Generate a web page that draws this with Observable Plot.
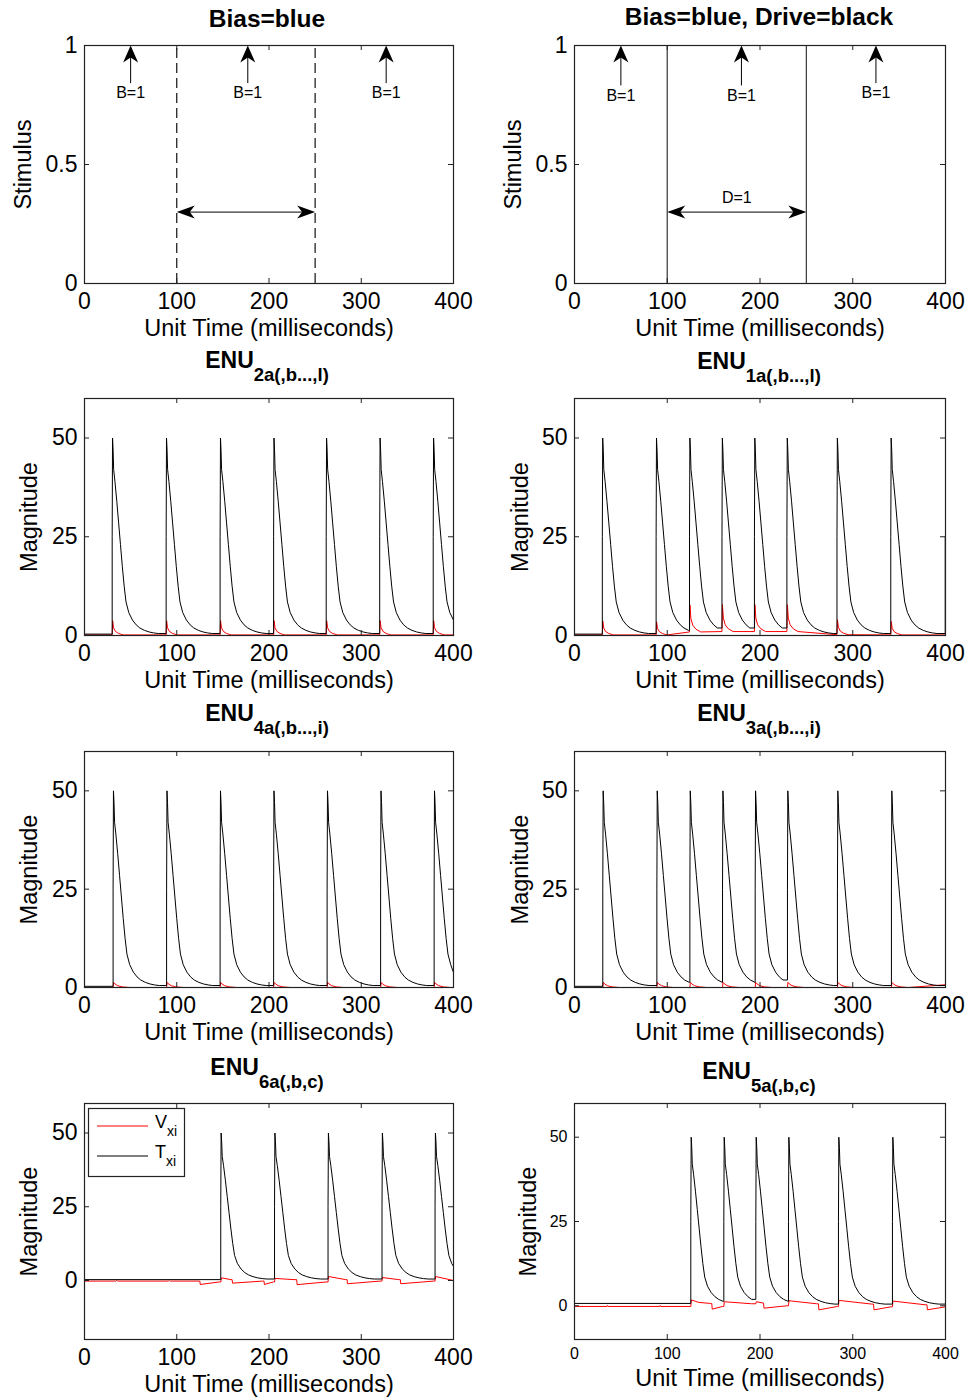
<!DOCTYPE html>
<html><head><meta charset="utf-8">
<script src="https://cdn.jsdelivr.net/npm/d3@7"></script>
<script src="https://cdn.jsdelivr.net/npm/@observablehq/plot@0.6"></script>
<style>
body{margin:0;background:#fff;}
#page{position:relative;width:970px;height:1399px;overflow:hidden;background:#fff;font-family:"Liberation Sans",Arial,sans-serif;}
.panel{position:absolute;}
#overlay{position:absolute;left:0;top:0;pointer-events:none;}
</style></head><body><div id="page"></div>
<script>
// ---------------- data ----------------
const timeDomain = [0, 400];
const timeTicks = [0, 100, 200, 300, 400];
const stimDomain = [0, 1];
const stimTicks = [0, 0.5, 1];
const magDomain = [0, 60];
const magDomain6 = [-20, 60];
const magDomain5 = [-10, 60];
const magTicks = [0, 25, 50];

const biasTimes = [0, 400];
const biasValues = [1, 1];
const driveEdges = [100, 250];
const driveArrowLevel = 0.3;
const driveLabelTime = 175;
const driveLabelLevel = 0.36;

const biasArrowTimesL = [50, 177, 327];
const biasArrowBaseL = [0.84, 0.84, 0.84];
const biasLabelLevelL = [0.80, 0.80, 0.80];
const biasArrowTimesR = [50, 180, 325];
const biasArrowBaseR = [0.83, 0.83, 0.84];
const biasLabelLevelR = [0.79, 0.79, 0.80];

// shape of one T spike (ms after onset, magnitude)
const spikeOffsets = [0, 0, 0.4, 1, 1.6, 3, 5, 7, 9, 11, 13, 15, 18, 22, 26, 30, 35, 40, 45, 50];
const spikeShape   = [null, 25, 50, 47, 42, 39, 34, 28.5, 23, 17.5, 12.5, 8.5, 5.8, 3.9, 2.7, 1.9, 1.3, 0.9, 0.65, 0.5];

// V peak shapes (ms after onset, share of peak)
const vSharpOffsets = [0.5, 1.5, 3.5, 7, 12];
const vSharpShare   = [1, 0.5, 0.25, 0.1, 0];
const vSoftOffsets  = [0.5, 2, 5, 10, 18];
const vSoftShare    = [1, 0.7, 0.35, 0.12, 0];

const spikesENU2 = [30, 88.5, 147, 205, 262, 320, 378];
const spikesENU1 = [30, 88, 124, 159, 194, 229, 283, 341, 399.7];
const spikesENU4 = [31, 89, 147, 205, 263, 321, 379];
const spikesENU3 = [30.5, 88.8, 124.4, 159.6, 194.8, 229.6, 283.5, 341.7];
const spikesENU6 = [147.7, 206, 264, 322.5, 380];
const spikesENU5 = [125.4, 161, 195.5, 230.7, 284.6, 342.8];

const tBaseENU2 = 0.35, tEndENU2 = 3.7;
const tBaseENU1 = 0.35, tEndENU1 = 25;
const tBaseENU4 = 0.3,  tEndENU4 = 3.8;
const tBaseENU3 = 0.3,  tEndENU3 = 0.5;
const tBaseENU6 = 0.3,  tEndENU6 = 4.8;
const tBaseENU5 = 0.7,  tEndENU5 = 0.5;

const vPeaksENU2 = [3.6, 3.6, 3.6, 3.6, 3.6, 3.6, 3.6];
const vBasesENU2 = [0.15, 0.15, 0.15, 0.15, 0.15, 0.15, 0.15];
const vEndENU2 = 0.15;
const vPeaksENU1 = [3.5, 3.3, 6.8, 6.8, 6.8, 6.8, 3.8, 3.4, 0];
const vBasesENU1 = [0.15, 0.15, 0.9, 1.0, 1.0, 1.0, 0.2, 0.15, 0.15];
const vEndENU1 = 0.15;
const vPeaksENU4 = [1.3, 1.3, 1.3, 1.3, 1.3, 1.3, 1.3];
const vBasesENU4 = [0, 0, 0, 0, 0, 0, 0];
const vEndENU4 = 0;
const vPeaksENU3 = [1.3, 1.3, 1.3, 1.3, 1.3, 1.3, 1.3, 1.3];
const vBasesENU3 = [0, 0, 0, 0, 0, 0, 0, 0];
const vEndENU3 = 0.7;

const vTimesENU6 = [0, 34, 35, 36, 91, 92, 93, 125, 125.5, 146, 147.7, 148.5, 158.6, 160, 160.5, 193, 194.6, 195, 204.7, 206, 206.5, 227, 230, 230.5, 262, 264, 264.5, 283, 284.7, 285, 320.7, 322.5, 323, 340.5, 342.3, 342.8, 378.4, 380, 380.5, 400];
const vValuesENU6 = [-0.2, -0.2, 0.1, -0.2, -0.2, 0.1, -0.2, -0.2, -1.35, -0.5, -0.5, 0.9, 0.3, 0.3, -0.9, -0.2, -0.2, -1.35, -0.5, -0.5, 0.7, 0.3, 0.3, -1.4, -0.5, -0.5, 1.35, 0.3, 0.3, -1.1, -0.2, -0.2, 1.0, 0.3, 0.3, -1.1, -0.2, -0.2, 1.35, 0];
const vTimesENU5 = [0, 35, 35.5, 36, 92, 92.5, 93, 125.4, 125.9, 134, 146.6, 148, 148.5, 159.6, 161, 161.5, 191, 195.5, 196, 203.8, 204.3, 229, 230.7, 231.2, 261, 263, 263.5, 283.6, 284.6, 285.1, 320.6, 322.4, 322.9, 341.4, 342.8, 343.3, 378, 380, 380.5, 400];
const vValuesENU5 = [-0.2, -0.2, 0.1, -0.2, -0.2, 0.1, -0.2, -0.2, 1.75, 1.0, 0.7, 0.7, -1.0, -0.2, -0.2, 1.2, 0.6, 0.6, 1.2, 0.8, -0.7, 0, 0, 1.5, 0.6, 0.6, -1.2, -0.2, -0.2, 1.6, 0.5, 0.5, -1.2, -0.3, -0.3, 1.4, 0.3, 0.3, -1.2, -0.3];

// ---------------- builders ----------------
function buildT(spikes, base, endValue) {
  const pts = [{t: 0, v: base}];
  let last = base;
  spikes.forEach((s, i) => {
    const next = i + 1 < spikes.length ? spikes[i + 1] : Infinity;
    pts.push({t: s, v: last});
    for (let k = 1; k < spikeOffsets.length; k++) {
      const t = s + spikeOffsets[k];
      if (t > 400 || t >= next) break;
      pts.push({t, v: spikeShape[k]});
      last = spikeShape[k];
    }
  });
  if (pts[pts.length - 1].t < 400) pts.push({t: 400, v: endValue});
  return pts;
}
function buildV(spikes, peaks, bases, offs, share, endValue) {
  const pts = [{t: 0, v: bases[0]}];
  spikes.forEach((s, i) => {
    const next = i + 1 < spikes.length ? spikes[i + 1] : Infinity;
    pts.push({t: s, v: bases[i]});
    for (let k = 0; k < offs.length; k++) {
      const t = s + offs[k];
      if (t > 400 || t >= next) break;
      pts.push({t, v: bases[i] + share[k] * peaks[i]});
    }
  });
  if (pts[pts.length - 1].t < 400) pts.push({t: 400, v: endValue});
  return pts;
}
const zipTV = (ts, vs) => ts.map((t, i) => ({t, v: vs[i]}));

// arrowhead symbols (tip at the point)
const upHead = {draw(c) { c.moveTo(0, 0); c.lineTo(7.5, 17); c.lineTo(0, 12); c.lineTo(-7.5, 17); c.closePath(); }};
const leftHead = {draw(c) { c.moveTo(0, 0); c.lineTo(18, -6.5); c.lineTo(13, 0); c.lineTo(18, 6.5); c.closePath(); }};
const rightHead = {draw(c) { c.moveTo(0, 0); c.lineTo(-18, -6.5); c.lineTo(-13, 0); c.lineTo(-18, 6.5); c.closePath(); }};

const FONT = "'Liberation Sans', Arial, Helvetica, sans-serif";
const INK = "#222";

function stimulusMarks(dashed, times, bases, labels, withD) {
  const idx = times.map((_, i) => i);
  const bias = zipTV(biasTimes, biasValues);
  const m = [
    Plot.ruleX(driveEdges, {x: d => d, y1: () => stimDomain[0], y2: () => stimDomain[1], stroke: dashed ? "#111" : "#444", strokeWidth: dashed ? 1.2 : 1.3, strokeDasharray: dashed ? "10,5" : null}),
    Plot.ruleX(idx, {x: i => times[i], y1: i => bases[i], y2: () => 0.97, stroke: "#000"}),
    Plot.dot(idx, {x: i => times[i], y: () => 1, symbol: upHead, fill: "#000", stroke: "none", r: 8}),
    Plot.text(idx, {x: i => times[i], y: i => labels[i], text: () => "B=1", fontSize: 16}),
    Plot.ruleY([driveArrowLevel], {y: d => d, x1: () => driveEdges[0] + 3, x2: () => driveEdges[1] - 3, stroke: "#000"}),
    Plot.dot([driveArrowLevel], {x: () => driveEdges[0], y: d => d, symbol: leftHead, fill: "#000", stroke: "none", r: 8}),
    Plot.dot([driveArrowLevel], {x: () => driveEdges[1], y: d => d, symbol: rightHead, fill: "#000", stroke: "none", r: 8}),
    Plot.line(bias, {x: "t", y: "v", stroke: "#0000ff", strokeWidth: 1})
  ];
  if (withD) m.push(Plot.text([driveLabelTime], {x: d => d, y: () => driveLabelLevel, text: () => "D=1", fontSize: 16}));
  return m;
}
function signalMarks(V, T) {
  return [
    Plot.line(V, {x: "t", y: "v", stroke: "#ff0000", strokeWidth: 1, clip: true}),
    Plot.line(T, {x: "t", y: "v", stroke: "#000", strokeWidth: 1, clip: true})
  ];
}

const rows = [
  {top: 0, height: 345, mt: 45, mb: 62},
  {top: 345, height: 352, mt: 53, mb: 62},
  {top: 697, height: 353, mt: 54, mb: 63},
  {top: 1050, height: 349, mt: 53, mb: 60}
];
const cols = [{left: 0, ml: 84, mr: 32}, {left: 485, ml: 89, mr: 25}];

const panels = [
  {r: 0, c: 0, y: stimDomain, ticks: stimTicks, ylabel: "Stimulus", ldx: -61, marks: stimulusMarks(true, biasArrowTimesL, biasArrowBaseL, biasLabelLevelL, false)},
  {r: 0, c: 1, y: stimDomain, ticks: stimTicks, ylabel: "Stimulus", ldx: -61, marks: stimulusMarks(false, biasArrowTimesR, biasArrowBaseR, biasLabelLevelR, true)},
  {r: 1, c: 0, y: magDomain, ticks: magTicks, ylabel: "Magnitude", ldx: -55,
   marks: signalMarks(buildV(spikesENU2, vPeaksENU2, vBasesENU2, vSharpOffsets, vSharpShare, vEndENU2), buildT(spikesENU2, tBaseENU2, tEndENU2))},
  {r: 1, c: 1, y: magDomain, ticks: magTicks, ylabel: "Magnitude", ldx: -54,
   marks: signalMarks(buildV(spikesENU1, vPeaksENU1, vBasesENU1, vSharpOffsets, vSharpShare, vEndENU1), buildT(spikesENU1, tBaseENU1, tEndENU1))},
  {r: 2, c: 0, y: magDomain, ticks: magTicks, ylabel: "Magnitude", ldx: -55,
   marks: signalMarks(buildV(spikesENU4, vPeaksENU4, vBasesENU4, vSoftOffsets, vSoftShare, vEndENU4), buildT(spikesENU4, tBaseENU4, tEndENU4))},
  {r: 2, c: 1, y: magDomain, ticks: magTicks, ylabel: "Magnitude", ldx: -54,
   marks: signalMarks(buildV(spikesENU3, vPeaksENU3, vBasesENU3, vSoftOffsets, vSoftShare, vEndENU3), buildT(spikesENU3, tBaseENU3, tEndENU3))},
  {r: 3, c: 0, y: magDomain6, ticks: magTicks, ylabel: "Magnitude", ldx: -55,
   marks: signalMarks(zipTV(vTimesENU6, vValuesENU6), buildT(spikesENU6, tBaseENU6, tEndENU6))},
  {r: 3, c: 1, y: magDomain5, ticks: magTicks, ylabel: "Magnitude", ldx: -46, small: true, labelDy: 46,
   marks: signalMarks(zipTV(vTimesENU5, vValuesENU5), buildT(spikesENU5, tBaseENU5, tEndENU5))}
];

const page = document.getElementById("page");
for (const p of panels) {
  const row = rows[p.r], col = cols[p.c];
  const width = 485, height = row.height;
  const W = width - col.ml - col.mr, H = height - row.mt - row.mb;
  const tf = p.small ? 16 : 23;
  const chart = Plot.plot({
    width, height,
    marginTop: row.mt, marginBottom: row.mb, marginLeft: col.ml, marginRight: col.mr,
    x: {domain: timeDomain},
    y: {domain: p.y},
    style: {fontFamily: FONT, fontSize: tf + "px", color: "#000", background: "transparent"},
    marks: [
      ...p.marks,
      Plot.tickX(timeTicks.slice(1, -1), {x: d => d, insetTop: H - 5, stroke: INK}),
      Plot.tickX(timeTicks.slice(1, -1), {x: d => d, insetBottom: H - 5, stroke: INK}),
      Plot.tickY(p.ticks, {y: d => d, insetRight: W - 5, stroke: INK}),
      Plot.tickY(p.ticks, {y: d => d, insetLeft: W - 5, stroke: INK}),
      Plot.frame({stroke: INK, strokeWidth: 1.2}),
      Plot.axisX(timeTicks, {tickSize: 0, tickPadding: p.small ? 8.5 : 9, fontSize: tf, label: null, tickFormat: d => String(d)}),
      Plot.axisY(p.ticks, {tickSize: 0, tickPadding: 7, fontSize: tf, label: null, tickFormat: d => String(d)}),
      Plot.text(["Unit Time (milliseconds)"], {text: d => d, frameAnchor: "bottom", textAnchor: "middle", dy: p.labelDy || 52, lineAnchor: "bottom", fontSize: 23.5}),
      Plot.text([p.ylabel], {text: d => d, frameAnchor: "left", textAnchor: "middle", lineAnchor: "middle", dx: p.ldx, rotate: -90, fontSize: 23.5})
    ]
  });
  const div = document.createElement("div");
  div.className = "panel";
  div.style.left = col.left + "px";
  div.style.top = row.top + "px";
  div.appendChild(chart);
  page.appendChild(div);
}

// ---------------- titles & legend ----------------
const titles = [
  {x: 267, y: 27, main: "Bias=blue", sub: ""},
  {x: 759, y: 25, main: "Bias=blue, Drive=black", sub: ""},
  {x: 267, y: 368, main: "ENU", sub: "2a(,b...,l)"},
  {x: 759, y: 369, main: "ENU", sub: "1a(,b...,l)"},
  {x: 267, y: 721, main: "ENU", sub: "4a(,b...,i)"},
  {x: 759, y: 721, main: "ENU", sub: "3a(,b...,i)"},
  {x: 267, y: 1075, main: "ENU", sub: "6a(,b,c)"},
  {x: 759, y: 1079, main: "ENU", sub: "5a(,b,c)"}
];
const legendNames = ["V", "T"];
const legendSubs = ["xi", "xi"];
const legendColors = ["#ff0000", "#000000"];

const svg = d3.select(page).append("svg").attr("id", "overlay").attr("width", 970).attr("height", 1399)
  .style("font-family", FONT);
for (const t of titles) {
  const tx = svg.append("text").attr("x", t.x).attr("y", t.y).attr("text-anchor", "middle")
    .attr("font-weight", "bold").attr("font-size", t.sub ? 23 : 24.5).attr("fill", "#000").text(t.main);
  if (t.sub) tx.append("tspan").attr("font-size", 18.5).attr("dy", 13).text(t.sub);
}
const lg = svg.append("g").attr("transform", "translate(88,1108)");
lg.append("rect").attr("x", 0.5).attr("y", 0.5).attr("width", 96).attr("height", 68).attr("fill", "#fff").attr("stroke", INK).attr("stroke-width", 1.2);
legendNames.forEach((n, i) => {
  const y = 18 + i * 30;
  lg.append("line").attr("x1", 9).attr("x2", 60).attr("y1", y).attr("y2", y).attr("stroke", legendColors[i]).attr("stroke-width", 1);
  const tx = lg.append("text").attr("x", 67).attr("y", y + 2).attr("font-size", 18).attr("fill", "#000").text(n);
  tx.append("tspan").attr("font-size", 14).attr("dy", 8).text(legendSubs[i]);
});
</script></body></html>
